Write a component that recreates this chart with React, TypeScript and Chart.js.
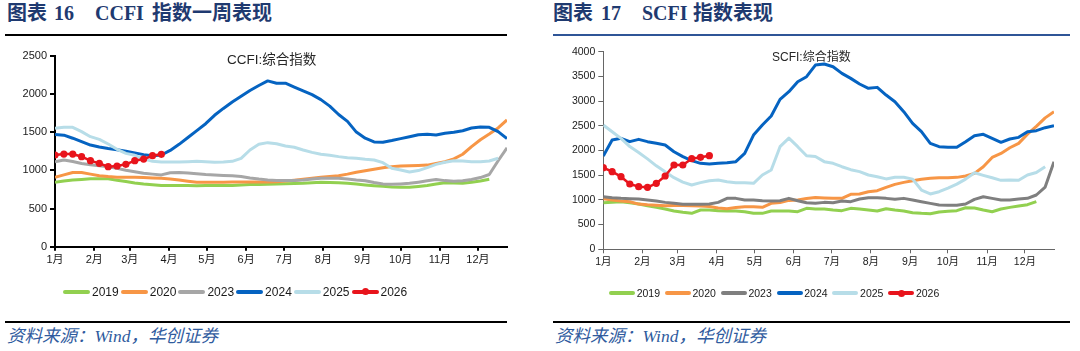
import React, { useEffect, useRef } from "react";
import { Chart, registerables } from "chart.js";

Chart.register(...registerables);

// ---------- data ----------
const MONTH_DAYS = [0, 31, 59, 90, 120, 151, 181, 212, 243, 273, 304, 334];
const MONTH_LABELS = ["1月", "2月", "3月", "4月", "5月", "6月", "7月", "8月", "9月", "10月", "11月", "12月"];
const YEARS = ["2019", "2020", "2023", "2024", "2025", "2026"];
const CCFI_Y_TICKS = [0, 500, 1000, 1500, 2000, 2500];
const SCFI_Y_TICKS = [0, 500, 1000, 1500, 2000, 2500, 3000, 3500, 4000];

// weekly values (week 0 = first week of January)
const CCFI_2019 = [845, 860, 872, 880, 888, 890, 888, 870, 852, 835, 822, 812, 800, 800, 802, 800, 798, 800, 802, 800, 800, 808, 815, 815, 817, 821, 825, 828, 830, 838, 843, 840, 838, 830, 820, 808, 798, 790, 782, 778, 777, 788, 800, 820, 838, 835, 830, 845, 860, 882];
const CCFI_2020 = [908, 940, 972, 970, 950, 930, 918, 910, 908, 908, 906, 900, 895, 885, 873, 858, 845, 843, 843, 845, 847, 847, 847, 847, 847, 851, 860, 870, 882, 895, 908, 918, 930, 950, 975, 995, 1015, 1032, 1048, 1055, 1060, 1063, 1068, 1090, 1112, 1150, 1210, 1310, 1400, 1475, 1555, 1660];
const CCFI_2023 = [1113, 1135, 1115, 1090, 1072, 1060, 1045, 1025, 1000, 980, 962, 950, 940, 968, 972, 965, 955, 945, 938, 932, 928, 920, 900, 885, 873, 868, 865, 868, 873, 885, 895, 895, 895, 885, 873, 864, 840, 822, 816, 822, 830, 845, 862, 880, 865, 856, 862, 880, 905, 945, 1125, 1295];
const CCFI_2024 = [1468, 1460, 1420, 1375, 1330, 1305, 1285, 1268, 1250, 1228, 1205, 1192, 1200, 1260, 1340, 1430, 1520, 1610, 1720, 1810, 1895, 1970, 2045, 2110, 2170, 2140, 2140, 2090, 2040, 1990, 1925, 1840, 1730, 1640, 1500, 1420, 1372, 1368, 1390, 1415, 1440, 1466, 1471, 1462, 1484, 1497, 1518, 1553, 1568, 1562, 1506, 1415];
const CCFI_2025 = [1549, 1562, 1562, 1506, 1440, 1405, 1344, 1275, 1222, 1196, 1150, 1117, 1108, 1108, 1108, 1112, 1117, 1112, 1105, 1108, 1117, 1157, 1266, 1340, 1362, 1348, 1318, 1301, 1266, 1235, 1209, 1196, 1179, 1165, 1157, 1144, 1135, 1100, 1026, 1004, 978, 996, 1035, 1078, 1105, 1126, 1122, 1113, 1113, 1122, 1157];
const CCFI_2026 = [1200, 1213, 1213, 1178, 1126, 1091, 1047, 1056, 1078, 1126, 1147, 1191, 1209];

const SCFI_2019 = [944, 950, 964, 944, 917, 883, 849, 815, 775, 748, 728, 795, 795, 782, 775, 775, 761, 728, 728, 775, 775, 775, 761, 829, 815, 815, 795, 782, 829, 815, 795, 775, 822, 795, 775, 741, 728, 721, 755, 768, 782, 842, 836, 795, 761, 815, 849, 876, 903, 964];
const SCFI_2020 = [1025, 998, 977, 964, 915, 900, 890, 880, 885, 885, 880, 878, 865, 835, 820, 845, 860, 860, 850, 930, 945, 990, 1000, 1030, 1050, 1040, 1031, 1031, 1112, 1119, 1166, 1186, 1254, 1315, 1355, 1389, 1416, 1436, 1450, 1450, 1456, 1483, 1537, 1672, 1860, 1940, 2055, 2145, 2330, 2490, 2660, 2786];
const SCFI_2023 = [1065, 1045, 1031, 1025, 1018, 998, 977, 950, 930, 910, 910, 910, 917, 950, 1031, 1031, 997, 997, 984, 977, 984, 1031, 984, 944, 930, 950, 944, 977, 964, 1018, 1045, 1045, 1031, 1011, 1031, 997, 964, 930, 896, 890, 890, 917, 1011, 1065, 1031, 997, 997, 1018, 1031, 1099, 1260, 1773];
const SCFI_2024 = [1889, 2212, 2246, 2179, 2226, 2179, 2145, 2111, 1976, 1875, 1794, 1740, 1727, 1740, 1754, 1774, 1943, 2313, 2516, 2698, 3035, 3190, 3393, 3494, 3730, 3750, 3696, 3561, 3460, 3346, 3258, 3278, 3123, 2988, 2786, 2550, 2381, 2145, 2077, 2064, 2064, 2179, 2300, 2327, 2246, 2165, 2233, 2266, 2381, 2401, 2462, 2502];
const SCFI_2025 = [2516, 2381, 2246, 2080, 1960, 1830, 1690, 1570, 1450, 1360, 1302, 1349, 1389, 1403, 1369, 1349, 1349, 1335, 1504, 1605, 2077, 2250, 2077, 1895, 1880, 1774, 1740, 1672, 1612, 1572, 1504, 1470, 1425, 1460, 1460, 1420, 1200, 1120, 1166, 1240, 1320, 1420, 1550, 1497, 1447, 1396, 1402, 1396, 1504, 1555, 1672];
const SCFI_2026 = [1652, 1572, 1470, 1322, 1268, 1255, 1335, 1484, 1706, 1706, 1834, 1862, 1895];

const CCFI_SERIES = [CCFI_2019, CCFI_2020, CCFI_2023, CCFI_2024, CCFI_2025, CCFI_2026];
const SCFI_SERIES = [SCFI_2019, SCFI_2020, SCFI_2023, SCFI_2024, SCFI_2025, SCFI_2026];

const CCFI_COLORS = ["#92d050", "#f79646", "#a6a6a6", "#0563c1", "#b7dde8", "#e8141c"];
const SCFI_COLORS = ["#92d050", "#f79646", "#7f7f7f", "#0563c1", "#b7dde8", "#e8141c"];

const SANS = "'Liberation Sans', Arial, 'Noto Sans CJK SC', sans-serif";
const TITLE_FONT = "'Liberation Serif', 'Noto Sans CJK SC', serif";

type Spec = {
  series: number[][];
  colors: string[];
  yTicks: number[];
  left: number;
  top: number;
  width: number;
  height: number;
  areaLeft: number;
  areaTop: number;
  areaRight: number;
  areaBottom: number;
  axisColor: string;
  axisWidth: number;
  fontSize: number;
};

const CCFI_SPEC: Spec = {
  series: CCFI_SERIES, colors: CCFI_COLORS, yTicks: CCFI_Y_TICKS,
  left: 0, top: 40, width: 520, height: 270,
  areaLeft: 55, areaTop: 15.7, areaRight: 507, areaBottom: 206.7,
  axisColor: "#000000", axisWidth: 2, fontSize: 11,
};
const SCFI_SPEC: Spec = {
  series: SCFI_SERIES, colors: SCFI_COLORS, yTicks: SCFI_Y_TICKS,
  left: 540, top: 40, width: 540, height: 270,
  areaLeft: 63.3, areaTop: 11.7, areaRight: 514, areaBottom: 209.3,
  axisColor: "#666666", axisWidth: 1, fontSize: 10.5,
};

function WeeklyChart({ spec }: { spec: Spec }) {
  const ref = useRef<HTMLCanvasElement>(null);
  useEffect(() => {
    const canvas = ref.current;
    if (!canvas) return;
    const n = spec.series.length;
    const datasets = spec.series.map((vals, i) => {
      const dots = i === n - 1;
      return {
        label: YEARS[i],
        data: vals.map((v, w) => ({ x: w * 7, y: v })),
        borderColor: spec.colors[i],
        backgroundColor: spec.colors[i],
        borderWidth: dots ? 2.5 : 3,
        pointRadius: dots ? 3.6 : 0,
        pointBorderWidth: 0,
        pointHoverRadius: 0,
        tension: 0,
        borderJoinStyle: "round" as const,
        order: n - 1 - i,
      };
    });
    const tickFont = { family: SANS, size: spec.fontSize };
    const chart = new Chart(canvas, {
      type: "line",
      data: { datasets },
      options: {
        animation: false,
        responsive: false,
        devicePixelRatio: 1,
        events: [],
        layout: { padding: { left: 0, top: spec.areaTop, right: spec.width - spec.areaRight, bottom: 0 } },
        plugins: { legend: { display: false }, tooltip: { enabled: false } },
        scales: {
          x: {
            type: "linear",
            min: 0,
            max: 357,
            afterBuildTicks: (s: any) => {
              s.ticks = MONTH_DAYS.map((v) => ({ value: v }));
            },
            afterFit: (s: any) => {
              s.height = spec.height - spec.areaBottom;
            },
            ticks: {
              autoSkip: false,
              maxRotation: 0,
              padding: 3,
              color: "#1a1a1a",
              font: tickFont,
              callback: (v: any) => {
                const k = MONTH_DAYS.indexOf(Number(v));
                return k >= 0 ? MONTH_LABELS[k] : "";
              },
            },
            grid: { drawOnChartArea: false, drawTicks: true, tickLength: 4, color: spec.axisColor, lineWidth: spec.axisWidth },
            border: { display: true, color: spec.axisColor, width: spec.axisWidth },
          },
          y: {
            type: "linear",
            min: 0,
            max: spec.yTicks[spec.yTicks.length - 1],
            afterBuildTicks: (s: any) => {
              s.ticks = spec.yTicks.map((v) => ({ value: v }));
            },
            afterFit: (s: any) => {
              s.width = spec.areaLeft;
            },
            ticks: { padding: 3, color: "#1a1a1a", font: tickFont, callback: (v: any) => String(v) },
            grid: { drawOnChartArea: false, drawTicks: true, tickLength: 5, color: spec.axisColor, lineWidth: spec.axisWidth },
            border: { display: true, color: spec.axisColor, width: spec.axisWidth },
          },
        },
      },
    } as any);
    return () => chart.destroy();
  }, [spec]);
  return (
    <canvas
      ref={ref}
      width={spec.width}
      height={spec.height}
      style={{ position: "absolute", left: spec.left, top: spec.top, width: spec.width, height: spec.height }}
    />
  );
}

function Legend(props: { left: number; top: number; colors: string[]; swatch: number; textGap: number; gap: number; fontSize: number }) {
  const { left, top, colors, swatch, textGap, gap, fontSize } = props;
  return (
    <div style={{ position: "absolute", left, top, height: 14, display: "flex", alignItems: "center", fontFamily: SANS, fontSize, color: "#1a1a1a", whiteSpace: "nowrap" }}>
      {YEARS.map((y, i) => (
        <div key={y} style={{ display: "flex", alignItems: "center", marginRight: gap }}>
          <div style={{ position: "relative", width: swatch, height: 4, background: colors[i], borderRadius: 2 }}>
            {i === YEARS.length - 1 && (
              <div style={{ position: "absolute", left: swatch / 2 - 3.5, top: -1.5, width: 7, height: 7, borderRadius: "50%", background: colors[i] }} />
            )}
          </div>
          <span style={{ marginLeft: textGap, lineHeight: "14px" }}>{y}</span>
        </div>
      ))}
    </div>
  );
}

function Txt(props: { left: number; top: number; size: number; children: any; font?: string; color?: string; bold?: boolean; italic?: boolean }) {
  return (
    <div
      style={{
        position: "absolute",
        left: props.left,
        top: props.top,
        fontSize: props.size,
        lineHeight: 1,
        fontFamily: props.font || TITLE_FONT,
        color: props.color || "#1f3a70",
        fontWeight: props.bold ? "bold" : "normal",
        fontStyle: props.italic ? "italic" : "normal",
        whiteSpace: "pre",
      }}
    >
      {props.children}
    </div>
  );
}

const TITLE_COLOR = "#1f3a70";
const SOURCE_COLOR = "#2f5b9e";

export default function App() {
  return (
    <div style={{ position: "absolute", left: 0, top: 0, width: 1080, height: 351, background: "#ffffff", overflow: "hidden" }}>
      {/* left title */}
      <Txt left={7} top={3} size={20} bold color={TITLE_COLOR}>图表</Txt>
      <Txt left={54} top={3} size={20} bold color={TITLE_COLOR}>16</Txt>
      <Txt left={95} top={3} size={20} bold color={TITLE_COLOR}>CCFI</Txt>
      <Txt left={152} top={3} size={20} bold color={TITLE_COLOR}>指数一周表现</Txt>
      <div style={{ position: "absolute", left: 5, top: 34, width: 502, height: 2, background: "#000" }} />

      {/* right title */}
      <Txt left={553} top={3} size={20} bold color={TITLE_COLOR}>图表</Txt>
      <Txt left={601} top={3} size={20} bold color={TITLE_COLOR}>17</Txt>
      <Txt left={642} top={3} size={20} bold color={TITLE_COLOR}>SCFI</Txt>
      <Txt left={693} top={3} size={20} bold color={TITLE_COLOR}>指数表现</Txt>
      <div style={{ position: "absolute", left: 553, top: 34, width: 517, height: 2, background: "#2f5597" }} />

      <WeeklyChart spec={CCFI_SPEC} />
      <WeeklyChart spec={SCFI_SPEC} />

      <Txt left={227} top={53} size={13.5} font={SANS} color="#262626">CCFI:综合指数</Txt>
      <Txt left={772} top={51} size={12} font={SANS} color="#262626">SCFI:综合指数</Txt>

      <Legend left={63} top={284.7} colors={CCFI_COLORS} swatch={27} textGap={2} gap={2} fontSize={12} />
      <Legend left={609} top={286.3} colors={SCFI_COLORS} swatch={26} textGap={1.7} gap={4.8} fontSize={10.5} />

      {/* footers */}
      <div style={{ position: "absolute", left: 5, top: 321, width: 502, height: 2, background: "#000" }} />
      <Txt left={7} top={328} size={17.5} italic color={SOURCE_COLOR}>资料来源：Wind，华创证券</Txt>
      <div style={{ position: "absolute", left: 553, top: 321, width: 517, height: 2, background: "#000" }} />
      <Txt left={555} top={328} size={17.5} italic color={SOURCE_COLOR}>资料来源：Wind，华创证券</Txt>
    </div>
  );
}
